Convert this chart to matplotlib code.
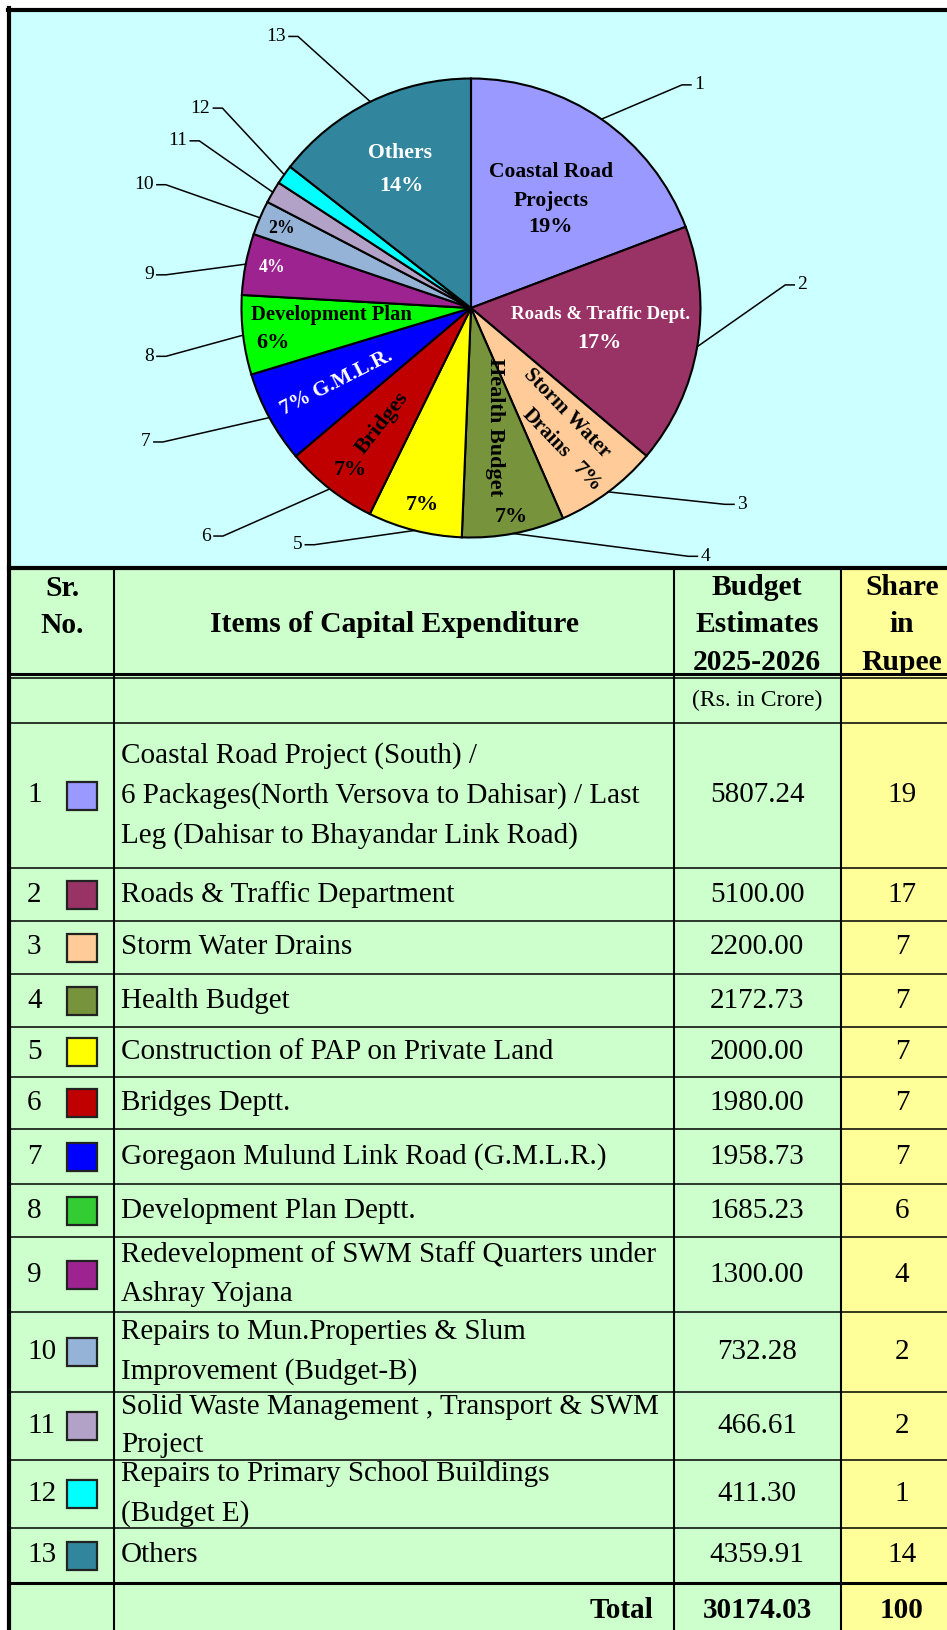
import numpy as np
import matplotlib
matplotlib.use("Agg")
import matplotlib.pyplot as plt
from matplotlib.patches import Rectangle

plt.rcParams["font.family"] = ["Liberation Serif", "DejaVu Serif"]

# ============================
# DATA
# ============================
sr_no = list(range(1, 14))

items = [
    "Coastal Road Project (South) /\n6 Packages(North Versova to Dahisar) / Last\nLeg (Dahisar to Bhayandar Link Road)",
    "Roads & Traffic Department",
    "Storm Water Drains",
    "Health Budget",
    "Construction of PAP on Private Land",
    "Bridges Deptt.",
    "Goregaon Mulund Link Road (G.M.L.R.)",
    "Development Plan Deptt.",
    "Redevelopment of SWM Staff Quarters under\nAshray Yojana",
    "Repairs to Mun.Properties & Slum\nImprovement (Budget-B)",
    "Solid Waste Management , Transport & SWM\nProject",
    "Repairs to Primary School Buildings\n(Budget E)",
    "Others",
]

budget = [5807.24, 5100.00, 2200.00, 2172.73, 2000.00, 1980.00, 1958.73,
          1685.23, 1300.00, 732.28, 466.61, 411.30, 4359.91]

share = [19, 17, 7, 7, 7, 7, 7, 6, 4, 2, 2, 1, 14]

total_budget = 30174.03
total_share = 100

pie_colors = ["#9999FF", "#993366", "#FFCC99", "#77933C", "#FFFF00", "#C00000",
              "#0000FF", "#00FF00", "#9D2391", "#95B3D7", "#B3A2C7", "#00FFFF",
              "#31859C"]
swatch_colors = pie_colors[:7] + ["#33CC33"] + pie_colors[8:]

# ============================
# LAYOUT (pixels)
# ============================
W, H = 947, 1630
CX, CY, R = 471, 308, 229.5
col_x = [9, 114, 674, 841, 947]
row_y = [723, 868, 921, 974, 1027, 1077, 1129, 1184, 1237, 1312, 1392,
         1460, 1528, 1583]
head_top, head_bot, unit_top = 569, 674, 678

# leader elbow (angle deg, radius factor) for slice numbers
leader_ang = [46.6, 4.2, -37.7, -48.8, -123.5, -137.4, -156.5, -171.0,
              173.8, 158.0, 148.4, 141.2, 122.5]
leader_rf = [1.338, 1.373, 1.399, 1.438, 1.237, 1.468, 1.464, 1.346,
             1.338, 1.434, 1.39, 1.39, 1.403]

fig = plt.figure(figsize=(W / 100, H / 100), dpi=100)

# table / panel axes, y downwards in pixels
ax = fig.add_axes([0, 0, 1, 1])
ax.set_xlim(0, W)
ax.set_ylim(H, 0)
ax.axis("off")

# panels
ax.add_patch(Rectangle((col_x[0], 10), W - col_x[0], 558, facecolor="#CCFFFF", edgecolor="none"))
ax.add_patch(Rectangle((col_x[0], head_top), W - col_x[0], H - head_top, facecolor="#CCFFCC", edgecolor="none"))
ax.add_patch(Rectangle((col_x[3], head_top), W - col_x[3], H - head_top, facecolor="#FFFF99", edgecolor="none"))

# borders
ax.plot([col_x[0], col_x[0]], [8, H], color="black", lw=3)
ax.plot([col_x[0] - 1.5, W], [10, 10], color="black", lw=3)
ax.plot([col_x[0], W], [568, 568], color="black", lw=3)

# table lines
for x in col_x[1:4]:
    ax.plot([x, x], [head_top, H], color="black", lw=1.5)
ax.plot([col_x[0], W], [head_bot, head_bot], color="black", lw=2.2)
ax.plot([col_x[0], W], [unit_top, unit_top], color="black", lw=1.1)
for y in row_y[:-1]:
    ax.plot([col_x[0], W], [y, y], color="black", lw=1.1)
ax.plot([col_x[0], W], [row_y[-1], row_y[-1]], color="black", lw=2.2)

# header
hfs = 21.3
ax.text(62, 607, "Sr.\nNo.", ha="center", va="center", fontsize=hfs,
        fontweight="bold", linespacing=1.5)
ax.text((col_x[1] + col_x[2]) / 2, 625, "Items of Capital Expenditure",
        ha="center", va="center", fontsize=hfs, fontweight="bold")
ax.text(757, 625, "Budget\nEstimates\n2025-2026", ha="center", va="center",
        fontsize=hfs, fontweight="bold", linespacing=1.52)
ax.text(902, 625, "Share\nin\nRupee", ha="center", va="center",
        fontsize=hfs, fontweight="bold", linespacing=1.52)
ax.text(757, 700, "(Rs. in Crore)", ha="center", va="center", fontsize=17)

# rows
bfs = 21
for i in range(len(items)):
    yc = (row_y[i] + row_y[i + 1]) / 2
    ax.text(27, yc, str(sr_no[i]), ha="left", va="center", fontsize=bfs)
    ax.add_patch(Rectangle((67, yc - 14), 30, 28, facecolor=swatch_colors[i],
                           edgecolor="#222222", lw=1.6))
    ax.text(121, yc, items[i], ha="left", va="center", fontsize=bfs,
            linespacing=1.65)
    ax.text(757, yc, "%.2f" % budget[i], ha="center", va="center", fontsize=bfs)
    ax.text(902, yc, str(share[i]), ha="center", va="center", fontsize=bfs)

# total row
yt = 1610
ax.text(653, yt, "Total", ha="right", va="center", fontsize=21, fontweight="bold")
ax.text(757, yt, "%.2f" % total_budget, ha="center", va="center", fontsize=21, fontweight="bold")
ax.text(902, yt, str(total_share), ha="center", va="center", fontsize=21, fontweight="bold")

# ============================
# PIE
# ============================
pax = fig.add_axes([0, 0, 1, 1])
pax.patch.set_alpha(0)
pcy = H - CY
wedges, _ = pax.pie(budget, colors=pie_colors, startangle=90, counterclock=False,
                    center=(CX, pcy), radius=R,
                    wedgeprops=dict(edgecolor="black", linewidth=1.5))
pax.set_xlim(0, W)
pax.set_ylim(0, H)
pax.set_aspect("auto")
pax.axis("off")

mids = [(w.theta1 + w.theta2) / 2 for w in wedges]


def polar(a, rf):
    t = np.radians(a)
    return CX + rf * R * np.cos(t), pcy + rf * R * np.sin(t)


# leader lines with slice numbers
for i, m in enumerate(mids):
    x0, y0 = polar(m, 1.0)
    x1, y1 = polar(leader_ang[i], leader_rf[i])
    side = 1 if i < 4 else -1
    pax.plot([x0, x1, x1 + 9 * side], [y0, y1, y1], color="black", lw=1.1)
    pax.text(x1 + 12 * side, y1, str(sr_no[i]), ha="left" if side > 0 else "right",
             va="center", fontsize=14)

# labels inside slices: (slice, text, radius factor, angle shift, rotation, colour, size)
pct = ["%d%%" % s for s in share]
inner = [
    (0, "Coastal Road\nProjects", 0.636, 1.3, 0, "black", 15.5),
    (0, pct[0], 0.496, -10, 0, "black", 16),
    (1, "Roads & Traffic Dept.", 0.563, 7.0, 0, "white", 13.6),
    (1, pct[1], 0.582, -5.5, 0, "white", 16),
    (2, "Storm Water\nDrains", 0.626, 0, -46, "black", 15),
    (2, pct[2], 0.893, -2.3, -46, "black", 16),
    (3, "Health Budget", 0.529, 0.7, -90, "black", 16),
    (3, pct[3], 0.928, 0.4, 0, "black", 16),
    (4, pct[4], 0.884, 0.5, 0, "black", 16),
    (5, "Bridges", 0.634, 0.3, 52, "black", 16),
    (5, pct[5], 0.881, 1.2, 0, "black", 16),
    (6, pct[6] + " G.M.L.R.", 0.669, 0.7, 27, "white", 15.2),
    (7, "Development Plan", 0.609, -3.9, 0, "black", 14.9),
    (7, pct[7], 0.876, 3.2, 0, "black", 16),
    (8, pct[8], 0.885, -0.4, 0, "white", 12.8),
    (9, pct[9], 0.894, 0.2, 0, "black", 12.8),
    (12, "Others", 0.743, -1.4, 0, "white", 15.7),
    (12, pct[12], 0.61, 3.6, 0, "white", 16),
]
for i, txt, rf, da, rot, col, fs in inner:
    x, y = polar(mids[i] + da, rf)
    pax.text(x, y, txt, ha="center", va="center", rotation=rot,
             rotation_mode="anchor", color=col, fontsize=fs, fontweight="bold",
             linespacing=1.6)

fig.savefig("out.png", dpi=100, facecolor="white")
